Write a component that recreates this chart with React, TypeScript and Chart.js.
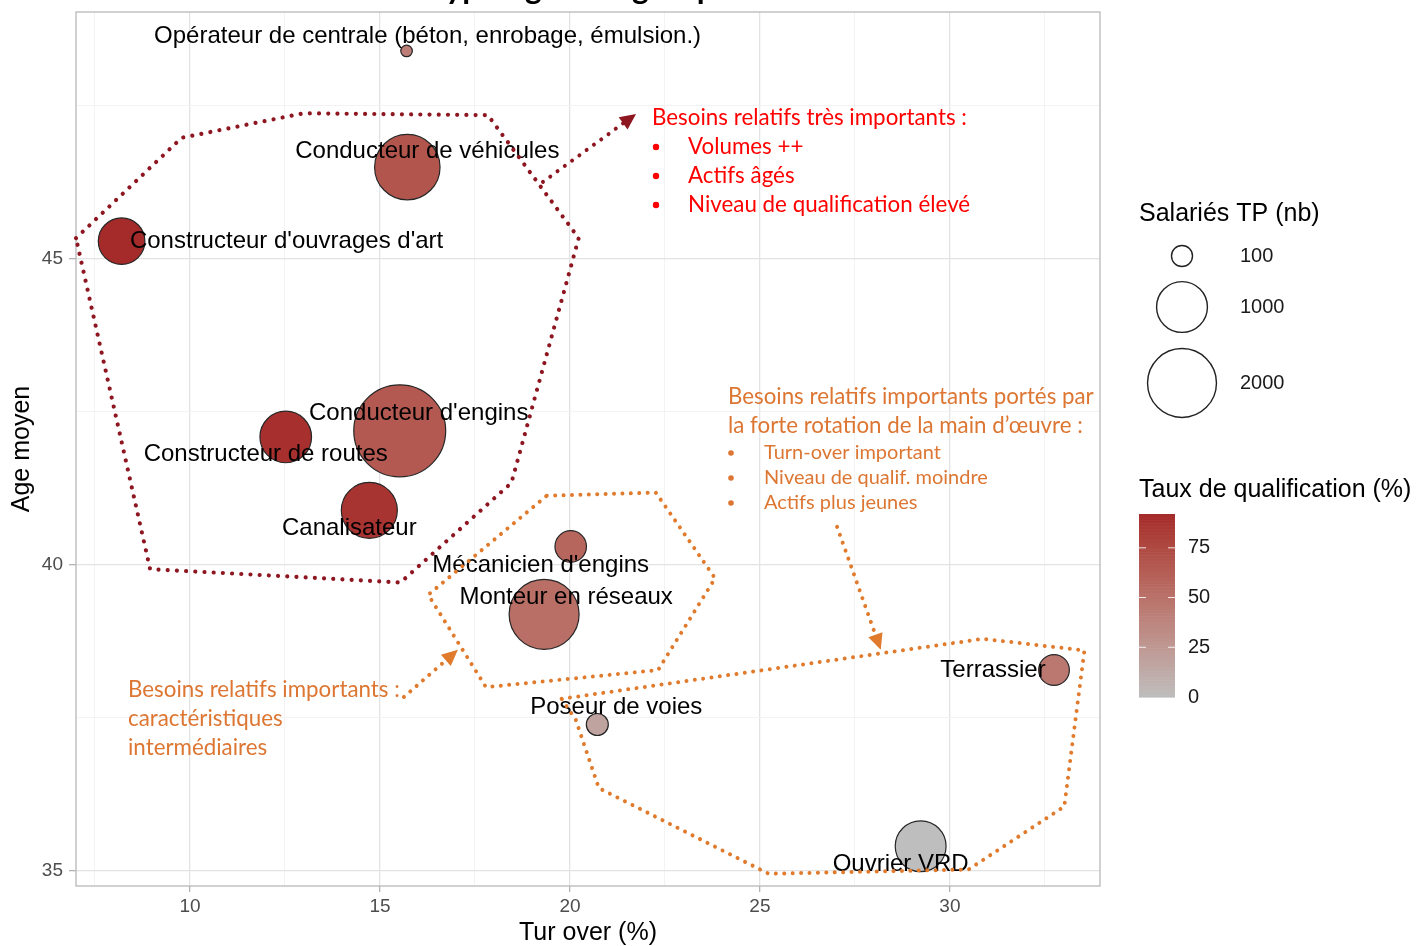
import React, { useEffect, useRef } from 'react';
import { Chart, registerables } from 'chart.js';

Chart.register(...registerables);

// ---------------- data ----------------
const jobs = [
  'Opérateur de centrale (béton, enrobage, émulsion.)',
  'Conducteur de véhicules',
  "Constructeur d'ouvrages d'art",
  "Conducteur d'engins",
  'Constructeur de routes',
  'Canalisateur',
  "Mécanicien d'engins",
  'Monteur en réseaux',
  'Poseur de voies',
  'Terrassier',
  'Ouvrier VRD',
];
const turnover = [15.70, 15.72, 8.2, 15.52, 12.52, 14.72, 20.02, 19.32, 20.72, 32.74, 29.23];
const ageMoyen = [48.40, 46.50, 45.29, 42.19, 42.09, 40.89, 40.30, 39.19, 37.39, 38.28, 35.40];
const salaries = [10, 1780, 815, 3770, 1035, 1250, 310, 2070, 115, 290, 1000];
const qualification = [42, 68, 92, 66, 89, 87, 58, 52, 18, 46, 0];

const xTickLabels = [10, 15, 20, 25, 30];
const yTickLabels = [35, 40, 45];
const sizeLegendValues = [100, 1000, 2000];
const colourLegendValues = [0, 25, 50, 75];

const titleText = 'Typologie des groupes métiers';
const xTitle = 'Tur over (%)';
const yTitle = 'Age moyen';
const sizeLegendTitle = 'Salariés TP (nb)';
const colourLegendTitle = 'Taux de qualification (%)';

const redNoteTitle = 'Besoins relatifs très importants :';
const redNoteBullets = ['Volumes ++', 'Actifs âgés', 'Niveau de qualification élevé'];
const rightNoteTitle = ['Besoins relatifs importants portés par', 'la forte rotation de la main d’œuvre :'];
const rightNoteBullets = ['Turn-over important', 'Niveau de qualif. moindre', 'Actifs plus jeunes'];
const leftNoteLines = ['Besoins relatifs importants :', 'caractéristiques', 'intermédiaires'];

// annotation shapes, in data units (turnover, age)
const redPolyX = [7.0, 9.78, 12.98, 17.84, 20.23, 18.46, 15.54, 8.95];
const redPolyY = [45.34, 46.98, 47.38, 47.35, 45.34, 41.34, 39.71, 39.93];
const midPolyX = [19.39, 22.26, 23.82, 22.32, 17.79, 16.27];
const midPolyY = [41.13, 41.18, 39.78, 38.28, 38.00, 39.51];
const lowPolyX = [19.78, 30.87, 33.54, 33.01, 30.49, 25.23, 20.76, 20.15];
const lowPolyY = [37.81, 38.79, 38.60, 36.05, 35.02, 34.95, 36.35, 37.47];
const redArrow = [19.29, 46.26, 21.74, 47.37];
const leftArrow = [15.63, 37.84, 17.05, 38.61];
const rightArrow = [27.03, 40.62, 28.18, 38.61];

// ---------------- helpers ----------------
const LOW = [190, 190, 190];
const HIGH = [165, 42, 42];

function rgb2lab(c: number[]) {
  const lin = (v: number) => { v /= 255; return v <= 0.04045 ? v / 12.92 : Math.pow((v + 0.055) / 1.055, 2.4); };
  const R = lin(c[0]), G = lin(c[1]), B = lin(c[2]);
  const X = (R * 0.4124564 + G * 0.3575761 + B * 0.1804375) / 0.95047;
  const Y = R * 0.2126729 + G * 0.7151522 + B * 0.072175;
  const Z = (R * 0.0193339 + G * 0.119192 + B * 0.9503041) / 1.08883;
  const f = (t: number) => (t > 216 / 24389 ? Math.cbrt(t) : (24389 / 27 * t + 16) / 116);
  const fx = f(X), fy = f(Y), fz = f(Z);
  return [116 * fy - 16, 500 * (fx - fy), 200 * (fy - fz)];
}
function lab2rgb(l: number[]) {
  const fy = (l[0] + 16) / 116, fx = fy + l[1] / 500, fz = fy - l[2] / 200;
  const finv = (t: number) => (t * t * t > 216 / 24389 ? t * t * t : (116 * t - 16) / (24389 / 27));
  const X = finv(fx) * 0.95047, Y = finv(fy), Z = finv(fz) * 1.08883;
  const R = X * 3.2404542 - Y * 1.5371385 - Z * 0.4985314;
  const G = -X * 0.969266 + Y * 1.8760108 + Z * 0.041556;
  const B = X * 0.0556434 - Y * 0.2040259 + Z * 1.0572252;
  const g = (v: number) => {
    v = v <= 0.0031308 ? 12.92 * v : 1.055 * Math.pow(v, 1 / 2.4) - 0.055;
    return Math.round(Math.max(0, Math.min(1, v)) * 255);
  };
  return [g(R), g(G), g(B)];
}
const LOW_LAB = rgb2lab(LOW);
const HIGH_LAB = rgb2lab(HIGH);
const qMin = Math.min(...qualification);
const qMax = Math.max(...qualification);
function qualColour(v: number) {
  const t = (v - qMin) / (qMax - qMin);
  const lab = LOW_LAB.map((a, i) => a + (HIGH_LAB[i] - a) * t);
  const c = lab2rgb(lab);
  return `rgb(${c[0]},${c[1]},${c[2]})`;
}
const radiusFor = (n: number) => 3.6 + 0.69 * Math.sqrt(n);

const SANS = '"Liberation Sans", Arial, sans-serif';
const NOTE = 'Lato, "Open Sans", sans-serif';
const RED_LINE = '#8E1620';
const ORANGE = '#E07A2C';
const ORANGE_TEXT = '#DC7632';

// label offsets in pixels relative to each bubble
const labelDX = [21, 20, 165, 19, -20, -20, -30, 22, 19, -61, -20];
const labelDY = [-15, -16, 0, -17, 17, 18, 19, -17, -17, 0, 18];

function dotted(ctx: CanvasRenderingContext2D, pts: number[][], closed: boolean, color: string, w: number, gap: number) {
  ctx.save();
  ctx.strokeStyle = color;
  ctx.lineWidth = w;
  ctx.lineCap = 'round';
  ctx.lineJoin = 'round';
  ctx.setLineDash([0.01, gap]);
  ctx.beginPath();
  pts.forEach((p, i) => (i ? ctx.lineTo(p[0], p[1]) : ctx.moveTo(p[0], p[1])));
  if (closed) ctx.closePath();
  ctx.stroke();
  ctx.restore();
}
function arrow(ctx: CanvasRenderingContext2D, a: number[], b: number[], color: string, w: number, gap: number) {
  const dx = b[0] - a[0], dy = b[1] - a[1];
  const L = Math.hypot(dx, dy);
  const ux = dx / L, uy = dy / L;
  const head = 16, half = 7.5;
  const base = [b[0] - ux * head, b[1] - uy * head];
  dotted(ctx, [a, [b[0] - ux * head * 0.8, b[1] - uy * head * 0.8]], false, color, w, gap);
  ctx.save();
  ctx.fillStyle = color;
  ctx.beginPath();
  ctx.moveTo(b[0], b[1]);
  ctx.lineTo(base[0] - uy * half, base[1] + ux * half);
  ctx.lineTo(base[0] + uy * half, base[1] - ux * half);
  ctx.closePath();
  ctx.fill();
  ctx.restore();
}
function fitSize(ctx: CanvasRenderingContext2D, text: string, target: number, family: string, weight = 'normal') {
  ctx.font = `${weight} 100px ${family}`;
  return (100 * target) / ctx.measureText(text).width;
}
function zeroPadding(sc: any) {
  sc.paddingTop = 0;
  sc.paddingBottom = 0;
  sc.paddingLeft = 0;
  sc.paddingRight = 0;
}

const overlay = {
  id: 'overlay',
  afterDatasetsDraw(chart: any) {
    const ctx: CanvasRenderingContext2D = chart.ctx;
    const xs = chart.scales.x, ys = chart.scales.y;
    const P = (x: number, y: number) => [xs.getPixelForValue(x), ys.getPixelForValue(y)];
    const area = chart.chartArea;

    ctx.save();
    // panel border
    ctx.strokeStyle = '#B8B8B8';
    ctx.lineWidth = 1.3;
    ctx.strokeRect(area.left, area.top, area.right - area.left, area.bottom - area.top);

    // bubble labels
    const meta = chart.getDatasetMeta(0);
    ctx.fillStyle = '#000';
    ctx.font = `24px ${SANS}`;
    ctx.textAlign = 'center';
    ctx.textBaseline = 'middle';
    meta.data.forEach((el: any, i: number) => {
      ctx.fillText(jobs[i], el.x + labelDX[i], el.y + labelDY[i]);
    });

    // polygons & arrows
    dotted(ctx, redPolyX.map((x, i) => P(x, redPolyY[i])), true, RED_LINE, 4.2, 9.2);
    dotted(ctx, midPolyX.map((x, i) => P(x, midPolyY[i])), true, ORANGE, 4, 8.4);
    dotted(ctx, lowPolyX.map((x, i) => P(x, lowPolyY[i])), true, ORANGE, 4, 8.4);
    arrow(ctx, P(redArrow[0], redArrow[1]), P(redArrow[2], redArrow[3]), RED_LINE, 4, 9);
    arrow(ctx, P(leftArrow[0], leftArrow[1]), P(leftArrow[2], leftArrow[3]), ORANGE, 4, 8.4);
    arrow(ctx, P(rightArrow[0], rightArrow[1]), P(rightArrow[2], rightArrow[3]), ORANGE, 4, 8.4);

    // red note
    ctx.textAlign = 'left';
    ctx.textBaseline = 'middle';
    let s = fitSize(ctx, redNoteTitle, 315, NOTE);
    ctx.font = `${s}px ${NOTE}`;
    ctx.fillStyle = '#FF0000';
    ctx.fillText(redNoteTitle, 652, 118);
    redNoteBullets.forEach((t, i) => {
      const y = 147 + i * 29;
      ctx.beginPath();
      ctx.arc(656, y, 3.2, 0, Math.PI * 2);
      ctx.fill();
      ctx.fillText(t, 688, y);
    });

    // right orange note
    s = fitSize(ctx, rightNoteTitle[0], 366, NOTE);
    ctx.font = `${s}px ${NOTE}`;
    ctx.fillStyle = ORANGE_TEXT;
    rightNoteTitle.forEach((t, i) => ctx.fillText(t, 728, 397 + i * 29));
    s = fitSize(ctx, rightNoteBullets[1], 224, NOTE);
    ctx.font = `${s}px ${NOTE}`;
    rightNoteBullets.forEach((t, i) => {
      const y = 453 + i * 25;
      ctx.beginPath();
      ctx.arc(731, y, 2.8, 0, Math.PI * 2);
      ctx.fill();
      ctx.fillText(t, 764, y);
    });

    // left orange note
    s = fitSize(ctx, leftNoteLines[0], 272, NOTE);
    ctx.font = `${s}px ${NOTE}`;
    leftNoteLines.forEach((t, i) => ctx.fillText(t, 128, 690 + i * 29));

    // title (cut off at the top)
    s = fitSize(ctx, titleText, 432, NOTE, 'bold');
    ctx.font = `bold ${s}px ${NOTE}`;
    ctx.fillStyle = '#000';
    ctx.textAlign = 'center';
    ctx.textBaseline = 'alphabetic';
    ctx.fillText(titleText, 645, -1);

    // axis titles
    ctx.font = `25px ${SANS}`;
    ctx.textBaseline = 'middle';
    ctx.fillText(xTitle, (area.left + area.right) / 2, 933);
    ctx.save();
    ctx.translate(22, (area.top + area.bottom) / 2);
    ctx.rotate(-Math.PI / 2);
    ctx.fillText(yTitle, 0, 0);
    ctx.restore();

    // size legend
    ctx.textAlign = 'left';
    ctx.font = `25px ${SANS}`;
    ctx.fillStyle = '#000';
    ctx.fillText(sizeLegendTitle, 1139, 214);
    const legY = [256, 307, 383];
    ctx.font = `20px ${SANS}`;
    sizeLegendValues.forEach((v, i) => {
      ctx.beginPath();
      ctx.arc(1182, legY[i], radiusFor(v), 0, Math.PI * 2);
      ctx.strokeStyle = '#222';
      ctx.lineWidth = 1.4;
      ctx.stroke();
      ctx.fillStyle = '#1a1a1a';
      ctx.fillText(String(v), 1240, legY[i]);
    });

    // colour legend
    ctx.font = `25px ${SANS}`;
    ctx.fillStyle = '#000';
    ctx.fillText(colourLegendTitle, 1139, 490);
    const barTop = 514, barBottom = 697, barL = 1139, barR = 1175;
    const steps = 120;
    for (let k = 0; k < steps; k++) {
      const v = qMin + ((qMax - qMin) * (k + 0.5)) / steps;
      ctx.fillStyle = qualColour(v);
      const y0 = barBottom - ((barBottom - barTop) * (k + 1)) / steps;
      ctx.fillRect(barL, y0, barR - barL, (barBottom - barTop) / steps + 0.6);
    }
    ctx.font = `20px ${SANS}`;
    colourLegendValues.forEach((v) => {
      const y = barBottom - ((v - qMin) / (qMax - qMin)) * (barBottom - barTop);
      if (v > qMin) {
        ctx.strokeStyle = 'rgba(255,255,255,0.85)';
        ctx.lineWidth = 1;
        ctx.beginPath();
        ctx.moveTo(barL, y); ctx.lineTo(barL + 7, y);
        ctx.moveTo(barR - 7, y); ctx.lineTo(barR, y);
        ctx.stroke();
      }
      ctx.fillStyle = '#1a1a1a';
      ctx.fillText(String(v), 1188, y);
    });
    ctx.restore();
  },
};

export default function App() {
  const ref = useRef<HTMLCanvasElement | null>(null);
  useEffect(() => {
    if (!ref.current) return;
    Chart.defaults.font.family = SANS;
    const isMajor = (v: number) => Math.abs(v / 5 - Math.round(v / 5)) < 1e-6;
    const chart = new Chart(ref.current, {
      type: 'bubble',
      data: {
        datasets: [
          {
            label: 'Métiers',
            data: turnover.map((x, i) => ({ x, y: ageMoyen[i], r: radiusFor(salaries[i]) })),
            backgroundColor: qualification.map(qualColour),
            borderColor: '#262626',
            borderWidth: 1.2,
          },
        ],
      },
      options: {
        animation: false,
        responsive: false,
        devicePixelRatio: 1,
        events: [],
        layout: { padding: { left: 0, top: 12, right: 319, bottom: 0 }, autoPadding: false },
        plugins: { legend: { display: false }, tooltip: { enabled: false }, title: { display: false } },
        scales: {
          x: {
            type: 'linear',
            min: 7.0,
            max: 33.95,
            afterFit: (sc: any) => { sc.height = 60; zeroPadding(sc); },
            border: { display: false },
            grid: {
              color: (c: any) => (isMajor(c.tick.value) ? '#E3E3E3' : '#F2F2F2'),
              lineWidth: (c: any) => (isMajor(c.tick.value) ? 1.3 : 0.9),
              tickColor: (c: any) => (isMajor(c.tick.value) ? '#B3B3B3' : 'rgba(0,0,0,0)'),
              tickLength: 6,
            },
            ticks: {
              stepSize: 2.5,
              includeBounds: false,
              autoSkip: false,
              maxRotation: 0,
              padding: 3,
              color: '#4D4D4D',
              font: { size: 19, family: SANS },
              callback: (v: any) => (xTickLabels.includes(Number(v)) ? String(v) : ''),
            },
          },
          y: {
            type: 'linear',
            min: 34.75,
            max: 49.036,
            afterFit: (sc: any) => { sc.width = 76; zeroPadding(sc); },
            border: { display: false },
            grid: {
              color: (c: any) => (isMajor(c.tick.value) ? '#E3E3E3' : '#F2F2F2'),
              lineWidth: (c: any) => (isMajor(c.tick.value) ? 1.3 : 0.9),
              tickColor: (c: any) => (isMajor(c.tick.value) ? '#B3B3B3' : 'rgba(0,0,0,0)'),
              tickLength: 7,
            },
            ticks: {
              stepSize: 2.5,
              includeBounds: false,
              autoSkip: false,
              padding: 6,
              color: '#4D4D4D',
              font: { size: 19, family: SANS },
              callback: (v: any) => (yTickLabels.includes(Number(v)) ? String(v) : ''),
            },
          },
        },
      },
      plugins: [overlay],
    } as any);
    return () => chart.destroy();
  }, []);
  return (
    <div style={{ position: 'absolute', left: 0, top: 0, width: 1419, height: 946, background: '#fff' }}>
      <canvas ref={ref} width={1419} height={946} style={{ display: 'block' }} />
    </div>
  );
}
